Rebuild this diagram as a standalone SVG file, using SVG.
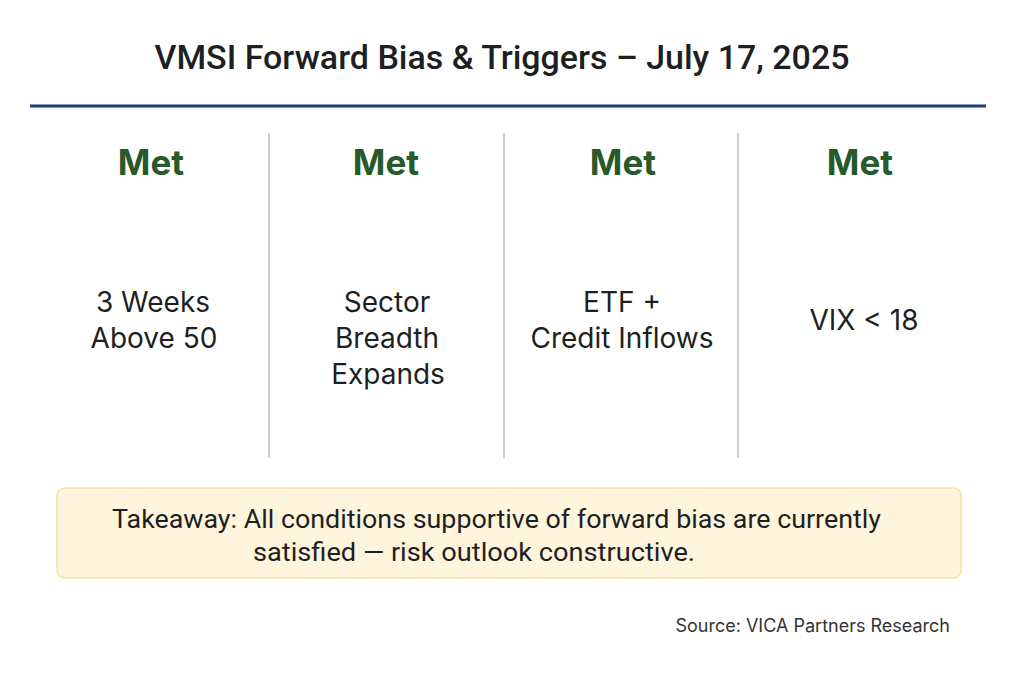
<svg xmlns="http://www.w3.org/2000/svg" width="1024" height="683" viewBox="0 0 1024 683">
<style>
.title{font-family:Roboto,"Liberation Sans",sans-serif;font-size:33px;font-weight:500;fill:#1e1f22;text-anchor:middle}
.met{font-family:Inter,"Liberation Sans",sans-serif;font-size:35px;font-weight:700;fill:#27592a;text-anchor:middle}
.body{font-family:Inter,"Liberation Sans",sans-serif;font-size:28px;fill:#1e1f22;text-anchor:middle}
.take{font-family:Roboto,"Liberation Sans",sans-serif;font-size:26px;fill:#1e1f22;text-anchor:middle}
.src{font-family:Inter,"Liberation Sans",sans-serif;font-size:18px;fill:#333;text-anchor:end}
.div{stroke:#cfcfcf;stroke-width:2}
</style>
<rect width="1024" height="683" fill="#ffffff"/>
<text class="title" x="502" y="69" textLength="695" lengthAdjust="spacingAndGlyphs">VMSI Forward Bias &amp; Triggers – July 17, 2025</text>
<line x1="30" y1="106" x2="986" y2="106" stroke="#1f3a78" stroke-width="3"/>
<g id="connectors">
<line class="div" x1="269" y1="133" x2="269" y2="458"/>
<line class="div" x1="504" y1="133" x2="504" y2="458"/>
<line class="div" x1="738" y1="133" x2="738" y2="458"/>
</g>
<g id="col1">
<text class="met" x="151" y="175">Met</text>
<text class="body" x="153" y="312">3 Weeks</text>
<text class="body" x="154" y="348">Above 50</text>
</g>
<g id="col2">
<text class="met" x="386" y="175">Met</text>
<text class="body" x="387" y="312">Sector</text>
<text class="body" x="387" y="348">Breadth</text>
<text class="body" x="388" y="384">Expands</text>
</g>
<g id="col3">
<text class="met" x="623" y="175">Met</text>
<text class="body" x="622" y="312">ETF +</text>
<text class="body" x="622" y="348">Credit Inflows</text>
</g>
<g id="col4">
<text class="met" x="860" y="175">Met</text>
<text class="body" x="864" y="330">VIX &lt; 18</text>
</g>
<g id="takeaway">
<rect x="57" y="488" width="904" height="90" rx="8" fill="#fff4dc" stroke="#f6dfa2" stroke-width="1.5"/>
<text class="take" x="496.5" y="528" textLength="769" lengthAdjust="spacingAndGlyphs">Takeaway: All conditions supportive of forward bias are currently</text>
<text class="take" x="474" y="561" textLength="442" lengthAdjust="spacingAndGlyphs">satisfied — risk outlook constructive.</text>
</g>
<text class="src" x="950" y="632">Source: VICA Partners Research</text>
</svg>
